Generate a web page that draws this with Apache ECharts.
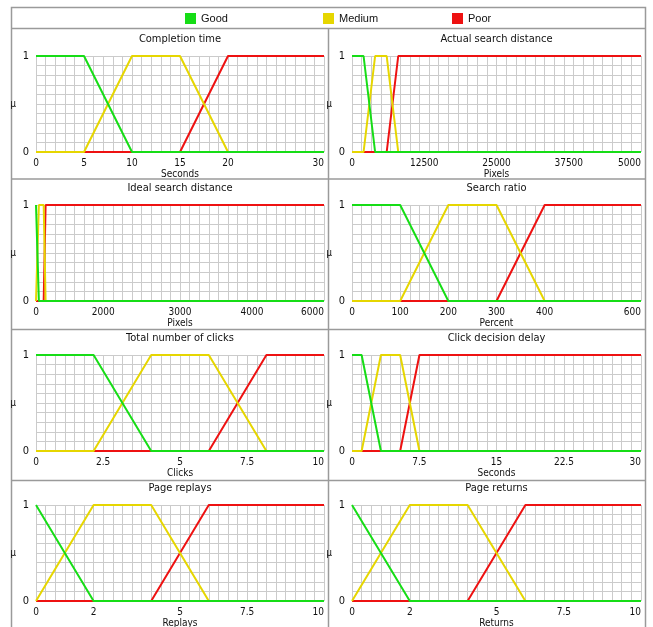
<!DOCTYPE html>
<html>
<head>
<meta charset="utf-8">
<script src="https://cdn.jsdelivr.net/npm/echarts@6/dist/echarts.min.js"></script>
<style>
html, body { margin: 0; padding: 0; background: #fff; }
#chart { width: 653px; height: 627px; }
</style>
</head>
<body>
<div id="chart"></div>
<script>
var NARROW = "'Liberation Sans Narrow', 'Arial Narrow', 'DejaVu Sans Condensed', sans-serif";
var SANS = "'Liberation Sans', Arial, sans-serif";

var titles = ['Completion time', 'Actual search distance', 'Ideal search distance', 'Search ratio',
    'Total number of clicks', 'Click decision delay', 'Page replays', 'Page returns'];
var axisNames = ['Seconds', 'Pixels', 'Pixels', 'Percent', 'Clicks', 'Seconds', 'Replays', 'Returns'];
var axisMax = [30, 50000, 6000, 600, 10, 30, 10, 10];

// where the tick labels sit, and what they say
var completionTicks = [0, 5, 10, 15, 20, 30];
var completionText = ['0', '5', '10', '15', '20', '30'];
var actualTicks = [0, 12500, 25000, 37500, 50000];
var actualText = ['0', '12500', '25000', '37500', '5000'];
var idealTicks = [0, 1400, 3000, 4500, 6000];
var idealText = ['0', '2000', '3000', '4000', '6000'];
var ratioTicks = [0, 100, 200, 300, 400, 600];
var ratioText = ['0', '100', '200', '300', '400', '600'];
var clicksTicks = [0, 2.33, 5, 7.33, 10];
var clicksText = ['0', '2.5', '5', '7.5', '10'];
var delayTicks = [0, 7, 15, 22, 30];
var delayText = ['0', '7.5', '15', '22.5', '30'];
var replaysTicks = [0, 2, 5, 7.33, 10];
var replaysText = ['0', '2', '5', '7.5', '10'];
var returnsTicks = [0, 2, 5, 7.33, 10];
var returnsText = ['0', '2', '5', '7.5', '10'];

// membership functions, [x, μ]
var completionGood = [[0, 1], [5, 1], [10, 0], [30, 0]];
var completionMedium = [[0, 0], [5, 0], [10, 1], [15, 1], [20, 0], [30, 0]];
var completionPoor = [[0, 0], [15, 0], [20, 1], [30, 1]];

var actualGood = [[0, 1], [2000, 1], [4000, 0], [50000, 0]];
var actualMedium = [[0, 0], [2000, 0], [4000, 1], [6000, 1], [8000, 0], [50000, 0]];
var actualPoor = [[0, 0], [6000, 0], [8000, 1], [50000, 1]];

var idealGood = [[0, 1], [20, 1], [60, 0], [6000, 0]];
var idealMedium = [[0, 0], [20, 0], [60, 1], [160, 1], [200, 0], [6000, 0]];
var idealPoor = [[0, 0], [160, 0], [200, 1], [6000, 1]];

var ratioGood = [[0, 1], [100, 1], [200, 0], [600, 0]];
var ratioMedium = [[0, 0], [100, 0], [200, 1], [300, 1], [400, 0], [600, 0]];
var ratioPoor = [[0, 0], [300, 0], [400, 1], [600, 1]];

var clicksGood = [[0, 1], [2, 1], [4, 0], [10, 0]];
var clicksMedium = [[0, 0], [2, 0], [4, 1], [6, 1], [8, 0], [10, 0]];
var clicksPoor = [[0, 0], [6, 0], [8, 1], [10, 1]];

var delayGood = [[0, 1], [1, 1], [3, 0], [30, 0]];
var delayMedium = [[0, 0], [1, 0], [3, 1], [5, 1], [7, 0], [30, 0]];
var delayPoor = [[0, 0], [5, 0], [7, 1], [30, 1]];

var replaysGood = [[0, 1], [2, 0], [10, 0]];
var replaysMedium = [[0, 0], [2, 1], [4, 1], [6, 0], [10, 0]];
var replaysPoor = [[0, 0], [4, 0], [6, 1], [10, 1]];

var returnsGood = [[0, 1], [2, 0], [10, 0]];
var returnsMedium = [[0, 0], [2, 1], [4, 1], [6, 0], [10, 0]];
var returnsPoor = [[0, 0], [4, 0], [6, 1], [10, 1]];

var tickValues = [completionTicks, actualTicks, idealTicks, ratioTicks, clicksTicks, delayTicks, replaysTicks, returnsTicks];
var tickTexts = [completionText, actualText, idealText, ratioText, clicksText, delayText, replaysText, returnsText];
var goodSets = [completionGood, actualGood, idealGood, ratioGood, clicksGood, delayGood, replaysGood, returnsGood];
var mediumSets = [completionMedium, actualMedium, idealMedium, ratioMedium, clicksMedium, delayMedium, replaysMedium, returnsMedium];
var poorSets = [completionPoor, actualPoor, idealPoor, ratioPoor, clicksPoor, delayPoor, replaysPoor, returnsPoor];

var colors = { Good: '#16dd16', Medium: '#e6d600', Poor: '#ee1111' };

// panel layout
var colLeft = [36, 352];
var colWidth = [288, 289];
var rowTop = [56, 205, 355, 505];
var plotHeight = 96;

function labelFor(ticks, texts) {
    return function (v) {
        var best = 0;
        for (var k = 1; k < ticks.length; k++) {
            if (Math.abs(ticks[k] - v) < Math.abs(ticks[best] - v)) best = k;
        }
        return texts[best];
    };
}

function buildOption() {
    var option = {
        animation: false,
        legend: [],
        title: [],
        grid: [],
        xAxis: [],
        yAxis: [],
        series: [],
        graphic: []
    };

    ['Good', 'Medium', 'Poor'].forEach(function (name, k) {
        option.legend.push({
            data: [name],
            left: [185, 323, 452][k],
            top: 13,
            padding: 0,
            icon: 'rect',
            itemWidth: 11,
            itemHeight: 11,
            textStyle: { fontFamily: SANS, fontSize: 11, color: '#111' }
        });
    });

    for (var i = 0; i < 8; i++) {
        var col = i % 2, row = Math.floor(i / 2);
        var gLeft = colLeft[col], gWidth = colWidth[col], gTop = rowTop[row];

        option.title.push({
            text: titles[i],
            left: gLeft + gWidth / 2,
            top: gTop - 22,
            padding: 0,
            textAlign: 'center',
            textStyle: { fontFamily: NARROW, fontSize: 11, fontWeight: 'normal', color: '#111' }
        });

        option.grid.push({
            left: gLeft, top: gTop, width: gWidth, height: plotHeight,
            containLabel: false, outerBoundsMode: 'none'
        });

        option.xAxis.push({
            gridIndex: i,
            type: 'value',
            min: 0,
            max: axisMax[i],
            interval: axisMax[i] / 30,
            name: axisNames[i],
            nameLocation: 'middle',
            nameGap: 17,
            nameTextStyle: { fontFamily: NARROW, fontSize: 10, color: '#111' },
            axisLine: { show: false },
            axisTick: { show: false },
            splitLine: { show: true, lineStyle: { color: '#cbcbcb', width: 1 } },
            axisLabel: {
                customValues: tickValues[i],
                formatter: labelFor(tickValues[i], tickTexts[i]),
                alignMaxLabel: 'right',
                margin: 6,
                fontFamily: NARROW,
                fontSize: 10,
                color: '#111'
            }
        });

        option.yAxis.push({
            gridIndex: i,
            type: 'value',
            min: 0,
            max: 1,
            interval: 0.1,
            name: 'μ',
            nameLocation: 'middle',
            nameRotate: 0,
            nameGap: 20,
            nameTextStyle: { fontFamily: NARROW, fontSize: 10, color: '#111' },
            axisLine: { show: false },
            axisTick: { show: false },
            splitLine: { show: true, lineStyle: { color: '#cbcbcb', width: 1 } },
            axisLabel: {
                customValues: [0, 1],
                margin: 7,
                fontFamily: NARROW,
                fontSize: 11,
                color: '#111'
            }
        });

        // red underneath, green on top
        [['Poor', poorSets[i]], ['Medium', mediumSets[i]], ['Good', goodSets[i]]].forEach(function (s) {
            option.series.push({
                name: s[0],
                type: 'line',
                xAxisIndex: i,
                yAxisIndex: i,
                data: s[1],
                showSymbol: false,
                color: colors[s[0]],
                lineStyle: { width: 2, color: colors[s[0]] }
            });
        });
    }

    // frame around legend and panels
    function frame() { return { stroke: '#9a9a9a', lineWidth: 1.5, fill: null }; }
    option.graphic.push({ type: 'rect', silent: true, shape: { x: 11.5, y: 7.5, width: 634, height: 640 }, style: frame() });
    [28.5, 179, 329.5, 480.5].forEach(function (y) {
        option.graphic.push({ type: 'line', silent: true, shape: { x1: 11.5, y1: y, x2: 645.5, y2: y }, style: frame() });
    });
    option.graphic.push({ type: 'line', silent: true, shape: { x1: 328.5, y1: 28.5, x2: 328.5, y2: 640 }, style: frame() });
    return option;
}

var myChart = echarts.init(document.getElementById('chart'));
myChart.setOption(buildOption());
</script>
</body>
</html>
